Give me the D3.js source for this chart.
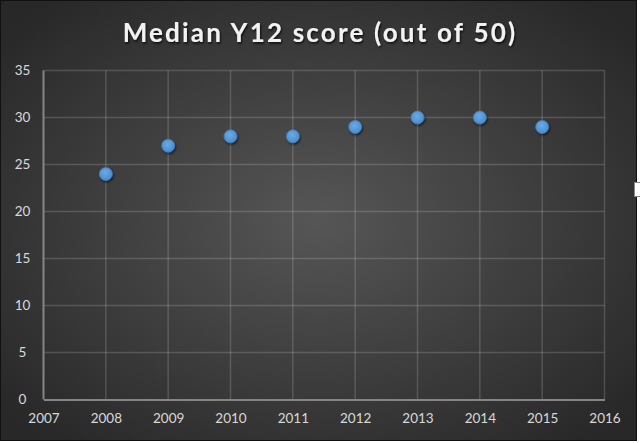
<!DOCTYPE html>
<html><head><meta charset="utf-8">
<script src="https://cdn.jsdelivr.net/npm/d3@7"></script>
<style>html,body{margin:0;padding:0;background:#fff;overflow:hidden}svg{display:block}</style>
</head><body>
<script>
const years = [2008, 2009, 2010, 2011, 2012, 2013, 2014, 2015];
const scores = [24, 27, 28, 28, 29, 30, 30, 29];
const xTicks = [2007, 2008, 2009, 2010, 2011, 2012, 2013, 2014, 2015, 2016];
const yTicks = [0, 5, 10, 15, 20, 25, 30, 35];
const title = "Median Y12 score (out of 50)";

const W = 640, H = 443;
const svg = d3.select("body").append("svg").attr("width", W).attr("height", H);
const defs = svg.append("defs");
const rg = defs.append("radialGradient").attr("id","bg").attr("cx","50%").attr("cy","50%").attr("r","65%");
rg.append("stop").attr("offset","0%").attr("stop-color","#565656");
rg.append("stop").attr("offset","100%").attr("stop-color","#282828");
const pg = defs.append("radialGradient").attr("id","pt").attr("cx","45%").attr("cy","40%").attr("r","60%");
pg.append("stop").attr("offset","0%").attr("stop-color","#6aaae6");
pg.append("stop").attr("offset","100%").attr("stop-color","#4a8bcc");
const sh = defs.append("filter").attr("id","sh").attr("x","-50%").attr("y","-50%").attr("width","200%").attr("height","200%");
sh.append("feDropShadow").attr("dx",1).attr("dy",1.5).attr("stdDeviation",1.2).attr("flood-color","#000").attr("flood-opacity",0.6);
const tsh = defs.append("filter").attr("id","tsh").attr("x","-10%").attr("y","-30%").attr("width","120%").attr("height","160%");
tsh.append("feDropShadow").attr("dx",1).attr("dy",1.5).attr("stdDeviation",1).attr("flood-color","#000").attr("flood-opacity",0.8);

svg.append("rect").attr("x",0).attr("y",0).attr("width",637).attr("height",441).attr("fill","url(#bg)");
svg.append("rect").attr("x",0.5).attr("y",0.5).attr("width",636).attr("height",440).attr("fill","none").attr("stroke","#111").attr("stroke-width",1);
svg.append("rect").attr("x",634.5).attr("y",182.5).attr("width",8).attr("height",14).attr("fill","#fff").attr("stroke","#888");

const x = d3.scaleLinear().domain([2007, 2016]).range([43.5, 604.5]);
const y = d3.scaleLinear().domain([0, 35]).range([399.5, 70.5]);

const grid = "rgba(255,255,255,0.16)";
const g = svg.append("g");
g.selectAll(".hg").data(yTicks.filter(d=>d>0)).join("line")
  .attr("x1", x(2007)).attr("x2", x(2016)).attr("y1", d=>y(d)).attr("y2", d=>y(d))
  .attr("stroke",grid).attr("stroke-width",1.5);
g.selectAll(".vg").data(xTicks.filter(d=>d>2007)).join("line")
  .attr("x1", d=>x(d)).attr("x2", d=>x(d)).attr("y1", y(35)).attr("y2", y(0))
  .attr("stroke",grid).attr("stroke-width",1.5);

const xAxis = d3.axisBottom(x).tickValues(xTicks).tickFormat(d3.format("d")).tickSize(0).tickPadding(14);
const yAxis = d3.axisLeft(y).tickValues(yTicks).tickSize(0).tickPadding(17);
const xa = svg.append("g").attr("transform",`translate(0,${y(0)})`).call(xAxis);
const ya = svg.append("g").attr("transform",`translate(${x(2007)},0)`).call(yAxis);
[xa, ya].forEach(a => {
  a.select(".domain").attr("stroke","#858585").attr("stroke-width",2);
  a.selectAll("text").attr("fill","#d9d9d9").attr("font-family","Lato, 'Open Sans', sans-serif").attr("font-size",13.5);
});
ya.selectAll("text").attr("text-anchor","middle").attr("dx","-4");
ya.select(".domain").remove();
svg.append("line").attr("x1",x(2007)).attr("x2",x(2007)).attr("y1",y(35)).attr("y2",y(0)).attr("stroke","#858585").attr("stroke-width",2);

svg.selectAll(".pt").data(years).join("circle")
  .attr("cx", (d)=>x(d)).attr("cy", (d,i)=>y(scores[i])).attr("r", 6.5)
  .attr("fill","url(#pt)").attr("stroke","#3f7fbf").attr("stroke-width",0.8).attr("filter","url(#sh)");

svg.append("text").attr("x", 320).attr("y", 42).attr("text-anchor","middle")
  .attr("fill","#f2f2f2").attr("font-family","Lato, 'Open Sans', sans-serif").attr("font-weight","bold")
  .attr("font-size",26).attr("letter-spacing","2.2").attr("filter","url(#tsh)").text(title);
</script>
</body></html>
